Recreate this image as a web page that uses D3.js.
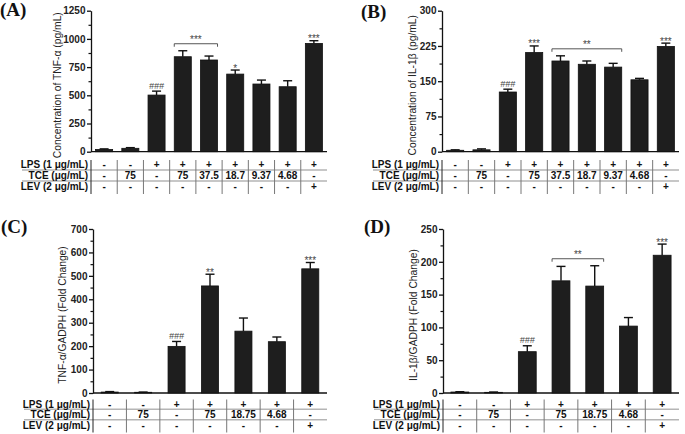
<!DOCTYPE html>
<html><head><meta charset="utf-8">
<script src="https://cdn.jsdelivr.net/npm/d3@7"></script>
<style>body{margin:0;background:#fff}svg{display:block}</style>
</head><body><svg id="c" width="685" height="434"></svg>
<script>
// ---- data ----
const rowLabels = ["LPS (1 μg/mL)", "TCE (μg/mL)", "LEV (2 μg/mL)"];
const lpsAB = ["-","-","+","+","+","+","+","+","+"];
const tceAB = ["-","75","-","75","37.5","18.7","9.37","4.68","-"];
const levAB = ["-","-","-","-","-","-","-","-","+"];
const lpsCD = ["-","-","+","+","+","+","+"];
const tceCD = ["-","75","-","75","18.75","4.68","-"];
const levCD = ["-","-","-","-","-","-","+"];

const tnfA = [20, 30, 502, 842, 813, 688, 600, 576, 960];
const tnfAErr = [5, 6, 35, 53, 35, 36, 35, 53, 24];
const marksA = ["","","###","","","*","","","***"];
const ticksA = [0, 250, 500, 750, 1000, 1250];

const il1bB = [3, 4, 127, 211, 193, 186, 180, 153, 224];
const il1bBErr = [1, 2, 6, 14, 11, 7, 8, 3, 7];
const marksB = ["","","###","***","","","","","***"];
const ticksB = [0, 75, 150, 225, 300];

const tnfC = [4, 3, 199, 457, 264, 219, 530];
const tnfCErr = [2, 1, 21, 50, 56, 20, 27];
const marksC = ["","","###","**","","","***"];
const ticksC = [0, 100, 200, 300, 400, 500, 600, 700];

const il1bD = [1.5, 1, 63, 171, 163, 102, 210];
const il1bDErr = [0.5, 0.5, 9, 22, 31, 13, 17];
const marksD = ["","","###","","","","***"];
const ticksD = [0, 50, 100, 150, 200, 250];

const panels = [
  {tag:"(A)", title:"Concentration of TNF-α (pg/mL)", vals:tnfA, errs:tnfAErr, marks:marksA, ticks:ticksA,
   rows:[lpsAB,tceAB,levAB], bracket:{from:3,to:4,label:"***"},
   x0:91, x1:327, yT:10.7, yB:151.7, titleX:61, tagX:0, tagY:16, rowY:[168,179,190], pad:0.35},
  {tag:"(B)", title:"Concentration of IL-1β (pg/mL)", vals:il1bB, errs:il1bBErr, marks:marksB, ticks:ticksB,
   rows:[lpsAB,tceAB,levAB], bracket:{from:4,to:6,label:"**"},
   x0:442, x1:679, yT:10.7, yB:151.7, titleX:416, tagX:361, tagY:18, rowY:[168,179,190], pad:0.35},
  {tag:"(C)", title:"TNF-α/GADPH (Fold Change)", vals:tnfC, errs:tnfCErr, marks:marksC, ticks:ticksC,
   rows:[lpsCD,tceCD,levCD], bracket:null,
   x0:93, x1:327, yT:229, yB:393, titleX:66, tagX:1, tagY:233, rowY:[407.5,418,428.5], pad:0.49},
  {tag:"(D)", title:"IL-1β/GADPH (Fold Change)", vals:il1bD, errs:il1bDErr, marks:marksD, ticks:ticksD,
   rows:[lpsCD,tceCD,levCD], bracket:{from:3,to:4,label:"**"},
   x0:443, x1:679, yT:229, yB:393, titleX:417, tagX:364, tagY:233, rowY:[407.5,418,428.5], pad:0.47}
];

const svg = d3.select("#c");
const SANS = "'Liberation Sans', Arial, sans-serif";

panels.forEach(p => {
  const g = svg.append("g");
  const n = p.vals.length;
  const x = d3.scaleBand().domain(d3.range(n)).range([p.x0, p.x1]).paddingInner(p.pad).paddingOuter(p.pad/2);
  const y = d3.scaleLinear().domain([0, p.ticks[p.ticks.length-1]]).range([p.yB, p.yT]);

  // panel tag
  g.append("text").attr("x", p.tagX).attr("y", p.tagY)
    .attr("font-family","'Liberation Serif', 'Times New Roman', serif").attr("font-weight","bold")
    .attr("font-size", 19).attr("fill","#111").text(p.tag);

  // minor ticks
  const minor = d3.pairs(p.ticks).map(([a,b]) => (a+b)/2);
  g.append("g").attr("transform", `translate(${p.x0},0)`)
    .call(d3.axisLeft(y).tickValues(minor).tickSize(2.5).tickSizeOuter(0).tickFormat(""))
    .call(s => { s.select(".domain").remove(); s.selectAll(".tick line").attr("stroke","#111").attr("stroke-width",1.2); });

  // y axis
  const ax = g.append("g").attr("transform", `translate(${p.x0},0)`)
    .call(d3.axisLeft(y).tickValues(p.ticks).tickSize(4).tickSizeOuter(0).tickPadding(1.5).tickFormat(d3.format("d")));
  ax.select(".domain").attr("stroke","#111").attr("stroke-width",1.3);
  ax.selectAll(".tick line").attr("stroke","#111").attr("stroke-width",1.3);
  ax.selectAll(".tick text").attr("font-family", SANS).attr("font-weight","bold").attr("font-size", 10).attr("fill","#222");

  // x axis baseline
  g.append("line").attr("x1", p.x0).attr("x2", p.x1).attr("y1", p.yB).attr("y2", p.yB)
    .attr("stroke","#111").attr("stroke-width",1.3);

  // y title
  g.append("text").attr("transform", `translate(${p.titleX},${(p.yT+p.yB)/2+4}) rotate(-90)`)
    .attr("text-anchor","middle").attr("font-family", SANS).attr("font-size", 10.3).attr("fill","#222").text(p.title);

  // bars
  g.selectAll("rect.bar").data(p.vals).join("rect").attr("class","bar")
    .attr("x", (d,i) => x(i)).attr("width", x.bandwidth())
    .attr("y", d => y(d)).attr("height", d => p.yB - y(d))
    .attr("fill","#1e1e1e").attr("stroke","#111").attr("stroke-width",0.8);

  // error bars
  const cap = 4.5;
  p.vals.forEach((v,i) => {
    const cx = x(i) + x.bandwidth()/2;
    const top = y(v + p.errs[i]);
    g.append("line").attr("x1",cx).attr("x2",cx).attr("y1",y(v)).attr("y2",top).attr("stroke","#111").attr("stroke-width",1.4);
    g.append("line").attr("x1",cx-cap).attr("x2",cx+cap).attr("y1",top).attr("y2",top).attr("stroke","#111").attr("stroke-width",1.4);
    const m = p.marks[i];
    if (m) {
      const isHash = m[0] === "#";
      g.append("text").attr("x", cx).attr("y", isHash ? top - 2.5 : top + 1.5)
        .attr("text-anchor","middle").attr("font-family", SANS).attr("font-size", isHash ? 9 : 10)
        .attr("font-style", isHash ? "italic" : "normal")
        .attr("fill","#444").text(m);
    }
  });

  // bracket
  if (p.bracket) {
    const b = p.bracket;
    const xa = x(b.from), xb = x(b.to) + x.bandwidth();
    const maxTop = d3.min(d3.range(b.from, b.to+1), i => y(p.vals[i] + p.errs[i]));
    const yb = maxTop - 7;
    g.append("path").attr("d", `M${xa},${yb+3}V${yb}H${xb}V${yb+3}`)
      .attr("fill","none").attr("stroke","#555").attr("stroke-width",1);
    g.append("text").attr("x",(xa+xb)/2).attr("y", yb - 0.5)
      .attr("text-anchor","middle").attr("font-family", SANS).attr("font-size", 10).attr("fill","#444").text(b.label);
  }

  // table
  const labelRight = p.x0 - 3;
  const rTop = p.rowY[0] - 8, rBot = p.rowY[2] + 4;
  [ (p.rowY[0]+p.rowY[1])/2 - 3.5, (p.rowY[1]+p.rowY[2])/2 - 3.5 ].forEach(yy => {
    g.append("line").attr("x1", labelRight - 66).attr("x2", p.x1).attr("y1", yy).attr("y2", yy)
      .attr("stroke","#b5b5b5").attr("stroke-width",1.6);
  });
  for (let i = 0; i < n; i++) {
    const xx = i === 0 ? p.x0 : (x(i-1) + x(i) + x.bandwidth())/2;
    g.append("line").attr("x1", xx).attr("x2", xx).attr("y1", rTop).attr("y2", rBot)
      .attr("stroke", i === 0 ? "#222" : "#777").attr("stroke-width", 1);
  }
  p.rows.forEach((row, r) => {
    g.append("text").attr("x", labelRight).attr("y", p.rowY[r]).attr("text-anchor","end")
      .attr("font-family", SANS).attr("font-weight","bold").attr("font-size", 10).attr("fill","#111").text(rowLabels[r]);
    row.forEach((c, i) => {
      g.append("text").attr("x", x(i) + x.bandwidth()/2).attr("y", p.rowY[r]).attr("text-anchor","middle")
        .attr("font-family", SANS).attr("font-weight","bold").attr("font-size", 10).attr("fill","#111").text(c);
    });
  });
});
</script></body></html>
